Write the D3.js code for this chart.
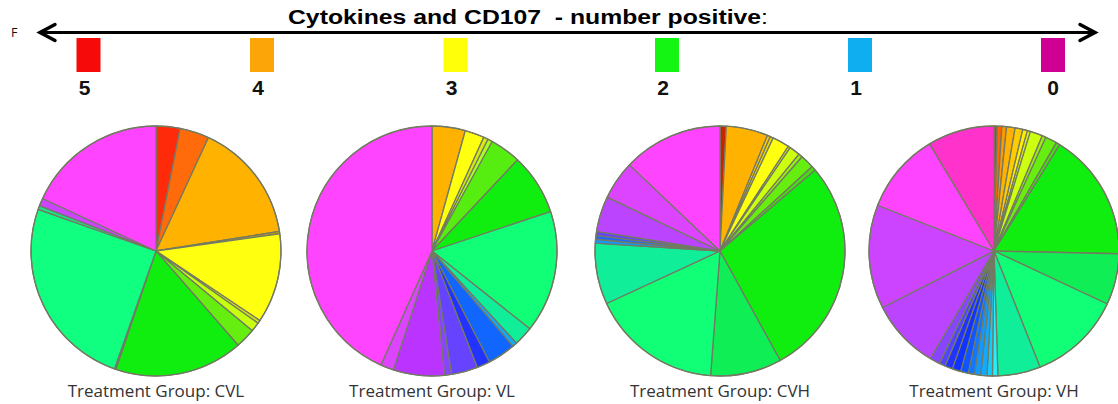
<!DOCTYPE html>
<html>
<head>
<meta charset="utf-8">
<script src="https://cdn.jsdelivr.net/npm/d3@7"></script>
<style>
  html, body { margin: 0; padding: 0; background: #fff; }
  svg { display: block; }
</style>
</head>
<body>
<script>
// Legend: number of positive functions (cytokines and CD107)
const legendLabels = ["5", "4", "3", "2", "1", "0"];
const legendColors = ["#f70a0a", "#fca508", "#ffff0a", "#14f514", "#0eaef0", "#cf0094"];

// Treatment groups
const groups = ["CVL", "VL", "CVH", "VH"];

// Slice shares (%) for each functional subset, clockwise from 12 o'clock
const cvlValues = [3.1, 3.8, 15.6, 0.3, 11.6, 0.4, 1.2, 2.6, 16.6, 0.2, 25.0, 0.5, 1.0, 18.1];
const cvlColors = ["#ff2a0a", "#ff6a0a", "#ffb300", "#c89a10", "#ffff10", "#d8e810", "#c8ff10", "#66ee10", "#10ee10", "#30b030", "#10ff80", "#20dd88", "#cc44ff", "#ff44ff"];

const vlValues = [4.3, 2.5, 0.6, 0.6, 4.0, 7.9, 15.8, 2.5, 0.6, 3.6, 1.7, 3.4, 0.9, 6.6, 1.7, 43.3];
const vlColors = ["#ffb300", "#ffff10", "#d8e810", "#aaff20", "#55ee10", "#10ee10", "#10ff77", "#11ee99", "#11aaff", "#1166ff", "#2233ff", "#6644ff", "#8844ff", "#bb33ff", "#dd44ff", "#ff44ff"];

const cvhValues = [0.8, 5.4, 0.4, 0.4, 2.2, 0.3, 1.4, 0.5, 1.8, 0.6, 28.2, 9.2, 16.9, 7.9, 0.5, 0.5, 0.5, 4.6, 5.0, 12.9];
const cvhColors = ["#cc2200", "#ffb300", "#ffcc00", "#eedd00", "#ffff10", "#d8e810", "#ccff10", "#99ee10", "#66ee10", "#44dd10", "#10ee10", "#10ee55", "#10ff77", "#11ee99", "#1199ff", "#2266ff", "#6644ff", "#bb44ff", "#dd44ff", "#ff44ff"];

const vhValues = [0.4, 0.6, 0.6, 1.1, 1.0, 0.6, 0.4, 1.6, 0.5, 1.5, 0.5, 16.5, 6.6, 12.0, 5.5, 0.7, 0.7, 0.8, 0.8, 0.8, 1.0, 1.1, 1.0, 0.8, 1.3, 9.0, 13.4, 10.4, 8.6];
const vhColors = ["#dd3300", "#ff6600", "#ff9900", "#ffb300", "#ffcc00", "#ffee00", "#ddee10", "#ccff10", "#99ee10", "#66ee10", "#44dd10", "#10ee10", "#10ee55", "#10ff77", "#11ee99", "#22eeff", "#11ccff", "#11aaff", "#1199ff", "#1177ff", "#1155ff", "#1133ff", "#2233ff", "#5544ff", "#8844ff", "#bb44ff", "#cc44ff", "#ff44ff", "#ff33cc"];

const pieValues = [cvlValues, vlValues, cvhValues, vhValues];
const pieColors = [cvlColors, vlColors, cvhColors, vhColors];

// Layout
const W = 1118, H = 404;
const legendX = [88.5, 262, 455.5, 667, 860, 1053];
const pieCenters = [156, 432, 720, 994];
const pieCY = 251, pieR = 125;

const svg = d3.select("body").append("svg")
  .attr("width", W).attr("height", H);

// Panel letter
svg.append("text")
  .attr("x", 11).attr("y", 37)
  .attr("font-family", "Open Sans, sans-serif")
  .attr("font-size", 12.5)
  .attr("fill", "#111")
  .text("F");

// Double-headed arrow
const arrowY = 32.5;
svg.append("line")
  .attr("x1", 40).attr("x2", 1094)
  .attr("y1", arrowY).attr("y2", arrowY)
  .attr("stroke", "#000").attr("stroke-width", 3);
svg.append("path")
  .attr("d", `M55,${arrowY - 8} L40,${arrowY} L55,${arrowY + 8}`)
  .attr("fill", "none").attr("stroke", "#000").attr("stroke-width", 3.5)
  .attr("stroke-linecap", "round").attr("stroke-linejoin", "miter");
svg.append("path")
  .attr("d", `M1080,${arrowY - 8} L1095,${arrowY} L1080,${arrowY + 8}`)
  .attr("fill", "none").attr("stroke", "#000").attr("stroke-width", 3.5)
  .attr("stroke-linecap", "round").attr("stroke-linejoin", "miter");

// Title above the arrow
const title = svg.append("text")
  .attr("x", 288).attr("y", 24)
  .attr("textLength", 480).attr("lengthAdjust", "spacingAndGlyphs")
  .attr("font-family", "Liberation Sans, Arial, sans-serif")
  .attr("font-size", 20)
  .attr("fill", "#000")
  .attr("xml:space", "preserve");
title.append("tspan").attr("font-weight", "bold").text("Cytokines and CD107  - number positive");
title.append("tspan").attr("font-weight", "normal").text(":");

// Legend swatches and numbers
const legend = svg.append("g");
legend.selectAll("rect").data(legendLabels).join("rect")
  .attr("x", (d, i) => legendX[i] - 12)
  .attr("y", 38)
  .attr("width", 24).attr("height", 34)
  .attr("fill", (d, i) => legendColors[i]);
legend.selectAll("text").data(legendLabels).join("text")
  .attr("x", (d, i) => legendX[i] - (i === 5 ? 0 : 4))
  .attr("y", 95)
  .attr("text-anchor", "middle")
  .attr("font-family", "Liberation Sans, Arial, sans-serif")
  .attr("font-weight", "bold")
  .attr("font-size", 21)
  .attr("fill", "#111")
  .text(d => d);

// Pies
const pie = d3.pie().sort(null).value(d => d);
const arc = d3.arc().innerRadius(0).outerRadius(pieR);

groups.forEach((g, gi) => {
  const pg = svg.append("g")
    .attr("transform", `translate(${pieCenters[gi]},${pieCY})`);
  pg.selectAll("path")
    .data(pie(pieValues[gi]))
    .join("path")
    .attr("d", arc)
    .attr("fill", (d, i) => pieColors[gi][i])
    .attr("stroke", "#737a62")
    .attr("stroke-width", 1.3)
    .attr("stroke-linejoin", "round");
  pg.append("circle")
    .attr("r", pieR)
    .attr("fill", "none")
    .attr("stroke", "#737a62")
    .attr("stroke-width", 1.2);

  svg.append("text")
    .attr("x", pieCenters[gi]).attr("y", 397)
    .attr("text-anchor", "middle")
    .attr("font-family", "Open Sans, sans-serif")
    .attr("font-size", 17)
    .attr("fill", "#333")
    .text(`Treatment Group: ${g}`);
});
</script>
</body>
</html>
